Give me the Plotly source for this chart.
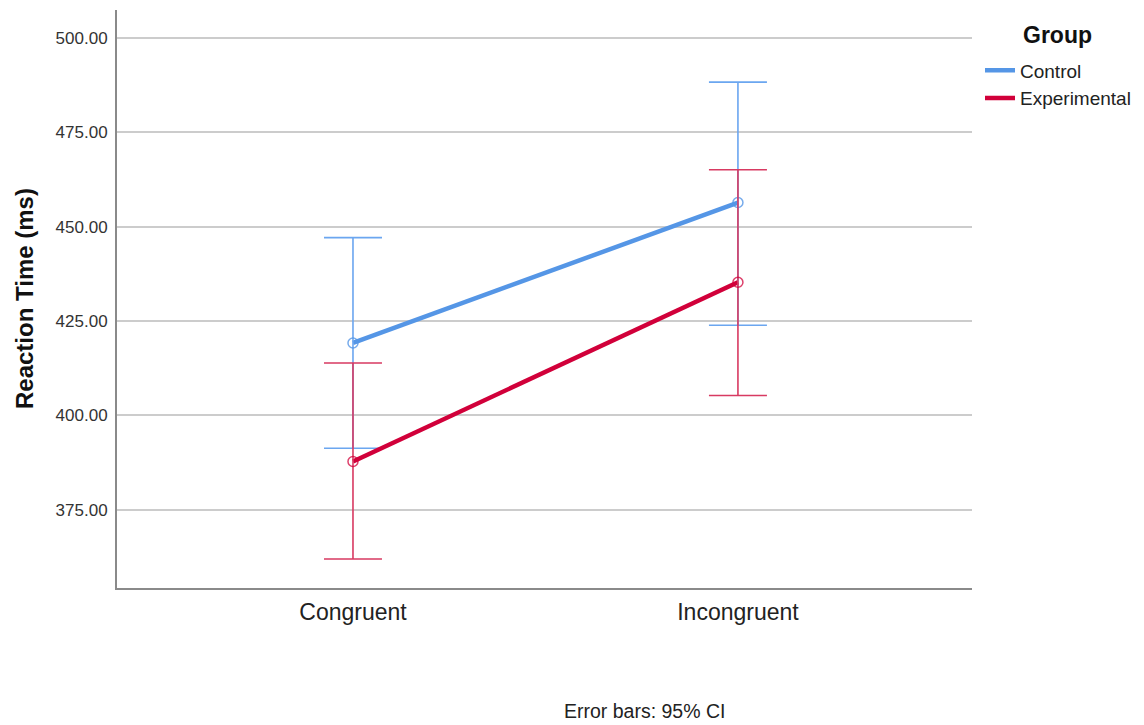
import plotly.graph_objects as go

conditions = ["Congruent", "Incongruent"]
groups = ["Control", "Experimental"]
means_control = [419.2, 456.4]
upper_control = [447.1, 488.3]
lower_control = [391.3, 423.9]
means_experimental = [387.8, 435.3]
upper_experimental = [413.9, 465.1]
lower_experimental = [362.0, 405.3]
y_ticks = [375, 400, 425, 450, 475, 500]

line_colors = ["#5596E6", "#D1003A"]
err_colors = ["#6BA6F0", "#D83A62"]
marker_colors = ["rgba(85,150,230,0.8)", "rgba(209,0,58,0.75)"]

series = [
    (means_control, upper_control, lower_control),
    (means_experimental, upper_experimental, lower_experimental),
]

fig = go.Figure()
for i, (name, (m, up, lo)) in enumerate(zip(groups, series)):
    fig.add_trace(go.Scatter(
        x=conditions, y=m, name=name, mode="lines",
        line=dict(color=line_colors[i], width=4.5),
    ))
    fig.add_trace(go.Scatter(
        x=conditions, y=m, name=name, mode="markers", showlegend=False,
        marker=dict(symbol="circle-open", size=10, color=marker_colors[i],
                    line=dict(color=marker_colors[i], width=1.5)),
        error_y=dict(type="data", symmetric=False,
                     array=[u - v for u, v in zip(up, m)],
                     arrayminus=[v - l for v, l in zip(m, lo)],
                     color=err_colors[i], thickness=1.6, width=29),
    ))

# page is offset by 8px body margin
W, H = 1136, 717
L, R, T, B = 109, 172, 2, 137
pw, ph = W - L - R, H - T - B

fig.update_layout(
    width=W, height=H,
    margin=dict(l=L, r=R, t=T, b=B),
    paper_bgcolor="white", plot_bgcolor="white",
    font=dict(family="Liberation Sans, Arial, sans-serif", color="#222"),
    showlegend=True,
    legend=dict(x=1.0 + 8 / pw, y=1 - 41.5 / ph, xanchor="left", yanchor="top",
                font=dict(size=19, color="#222"), tracegroupgap=0,
                itemwidth=30, bgcolor="rgba(0,0,0,0)"),
    xaxis=dict(type="category", range=[-0.613, 1.608],
               showgrid=False, showline=True, linecolor="#8a8a8a", linewidth=2,
               ticks="", tickfont=dict(size=23, color="#222"),
               ticklabelstandoff=2, zeroline=False),
    yaxis=dict(range=[354.3, 507.4], tickvals=y_ticks,
               ticktext=[f"{v:.2f}" for v in y_ticks],
               showgrid=True, gridcolor="#cccccc", gridwidth=1.5,
               showline=True, linecolor="#8a8a8a", linewidth=2,
               ticks="", tickfont=dict(size=17, color="#333"),
               ticklabelstandoff=4, zeroline=False),
    annotations=[
        dict(text="<b>Reaction Time (ms)</b>", textangle=-90,
             xref="paper", yref="paper", x=(16 - L) / pw, y=289 / ph,
             xanchor="center", yanchor="middle", showarrow=False,
             font=dict(size=24, color="#111")),
        dict(text="<b>Group</b>", xref="paper", yref="paper",
             x=(1013 - L) / pw, y=(H - B - 27) / ph,
             xanchor="left", yanchor="middle", showarrow=False,
             font=dict(size=23, color="#111")),
        dict(text="Error bars: 95% CI", xref="paper", yref="paper",
             x=(636 - L) / pw, y=(H - B - 703) / ph,
             xanchor="center", yanchor="middle", showarrow=False,
             font=dict(size=19.5, color="#222")),
    ],
)

fig.write_html("out.html")
